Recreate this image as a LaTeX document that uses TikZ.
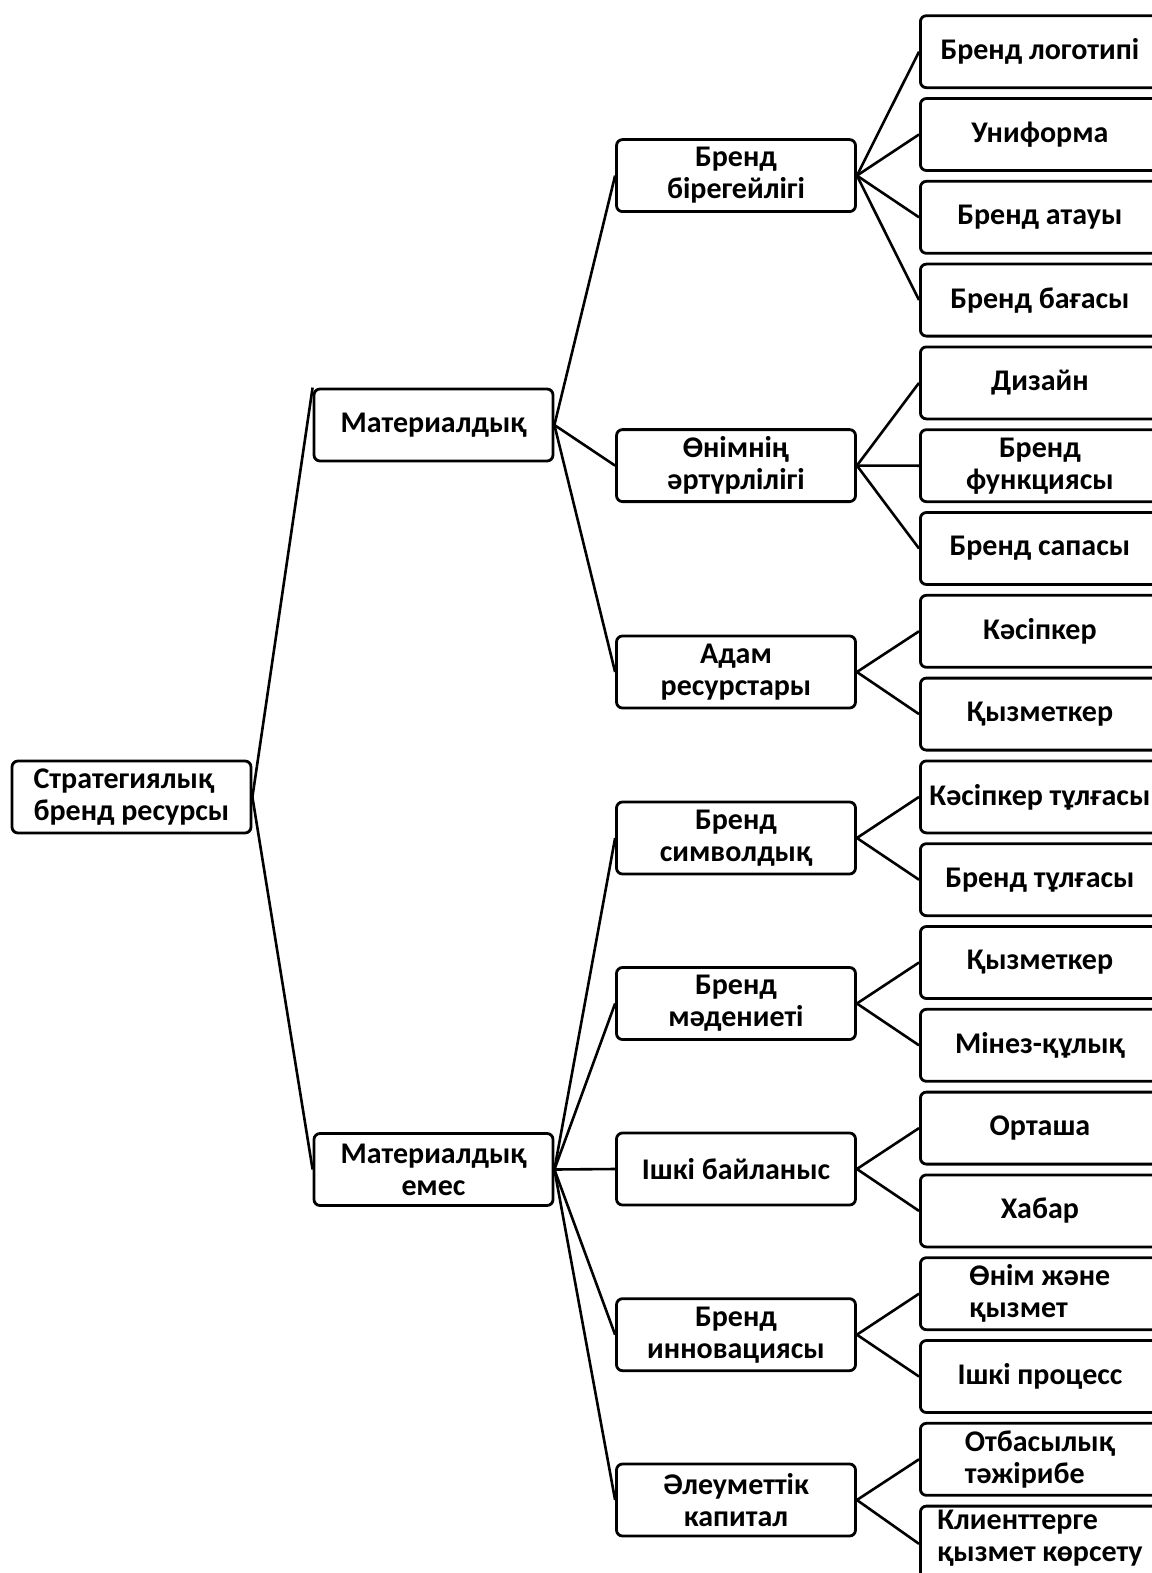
\documentclass[tikz,border=0pt]{standalone}
\usepackage{fontspec}
\setmainfont{Carlito}
\usepackage{tikz}
\usetikzlibrary{positioning}

\begin{document}
\begin{tikzpicture}[
    x=0.5pt, y=-0.5pt,
    node distance=4pt,
    box/.style={rectangle, draw, line width=1.4pt, rounded corners=3pt, minimum width=119.5pt, minimum height=36pt, inner sep=2pt, align=center, font=\bfseries\fontsize{15}{16}\selectfont},
    leaf/.style={box, anchor=west},
    link/.style={line width=1.3pt}
]
    \useasboundingbox (0,0) rectangle (1151,1573);

    % root and the two kinds of resources
    \node [box, align=left] (root) at (131.5,797) {Стратегиялық\\бренд ресурсы};
    \node [box] (mat) at (433.5,425) {Материалдық};
    \node [box] (nonmat) at (433.5,1169.5) {Материалдық\\емес};

    % second level
    \node [box] (ident) at (736,175.6) {Бренд\\бірегейлігі};
    \node [box] (variety) at (736,465.6) {Өнімнің\\әртүрлілігі};
    \node [box] (human) at (736,672) {Адам\\ресурстары};
    \node [box] (symbol) at (736,838) {Бренд\\символдық};
    \node [box] (culture) at (736,1003.5) {Бренд\\мәдениеті};
    \node [box] (comm) at (736,1169) {Ішкі байланыс};
    \node [box] (innov) at (736,1334.7) {Бренд\\инновациясы};
    \node [box] (social) at (736,1500) {Әлеуметтік\\капитал};

    % third level
    \node [leaf] (logo) at (919,51.7) {Бренд логотипі};
    \node [leaf, below=of logo] (uniform) {Униформа};
    \node [leaf, below=of uniform] (name) {Бренд атауы};
    \node [leaf, below=of name] (price) {Бренд бағасы};
    \node [leaf, below=of price] (design) {Дизайн};
    \node [leaf, below=of design] (func) {Бренд\\функциясы};
    \node [leaf, below=of func] (quality) {Бренд сапасы};
    \node [leaf, below=of quality] (owner) {Кәсіпкер};
    \node [leaf, below=of owner] (staff) {Қызметкер};
    \node [leaf, below=of staff] (ownerimg) {Кәсіпкер тұлғасы};
    \node [leaf, below=of ownerimg] (brandimg) {Бренд тұлғасы};
    \node [leaf, below=of brandimg] (staff2) {Қызметкер};
    \node [leaf, below=of staff2] (behav) {Мінез-құлық};
    \node [leaf, below=of behav] (medium) {Орташа};
    \node [leaf, below=of medium] (msg) {Хабар};
    \node [leaf, below=of msg, align=left] (product) {Өнім және\\қызмет};
    \node [leaf, below=of product] (process) {Ішкі процесс};
    \node [leaf, below=of process, align=left] (family) {Отбасылық\\тәжірибе};
    \node [leaf, below=of family, align=left, text depth=8pt] (service) {Клиенттерге\\қызмет көрсету};

    \draw [link] (root.east) -- (mat.north west);
    \draw [link] (root.east) -- (nonmat.west);

    \draw [link] (mat.east) -- (ident.west);
    \draw [link] (mat.east) -- (variety.west);
    \draw [link] (mat.east) -- (human.west);
    \draw [link] (nonmat.east) -- (symbol.west);
    \draw [link] (nonmat.east) -- (culture.west);
    \draw [link] (nonmat.east) -- (comm.west);
    \draw [link] (nonmat.east) -- (innov.west);
    \draw [link] (nonmat.east) -- (social.west);

    \draw [link] (ident.east) -- (logo.west);
    \draw [link] (ident.east) -- (uniform.west);
    \draw [link] (ident.east) -- (name.west);
    \draw [link] (ident.east) -- (price.west);
    \draw [link] (variety.east) -- (design.west);
    \draw [link] (variety.east) -- (func.west);
    \draw [link] (variety.east) -- (quality.west);
    \draw [link] (human.east) -- (owner.west);
    \draw [link] (human.east) -- (staff.west);
    \draw [link] (symbol.east) -- (ownerimg.west);
    \draw [link] (symbol.east) -- (brandimg.west);
    \draw [link] (culture.east) -- (staff2.west);
    \draw [link] (culture.east) -- (behav.west);
    \draw [link] (comm.east) -- (medium.west);
    \draw [link] (comm.east) -- (msg.west);
    \draw [link] (innov.east) -- (product.west);
    \draw [link] (innov.east) -- (process.west);
    \draw [link] (social.east) -- (family.west);
    \draw [link] (social.east) -- (service.west);
\end{tikzpicture}
\end{document}
